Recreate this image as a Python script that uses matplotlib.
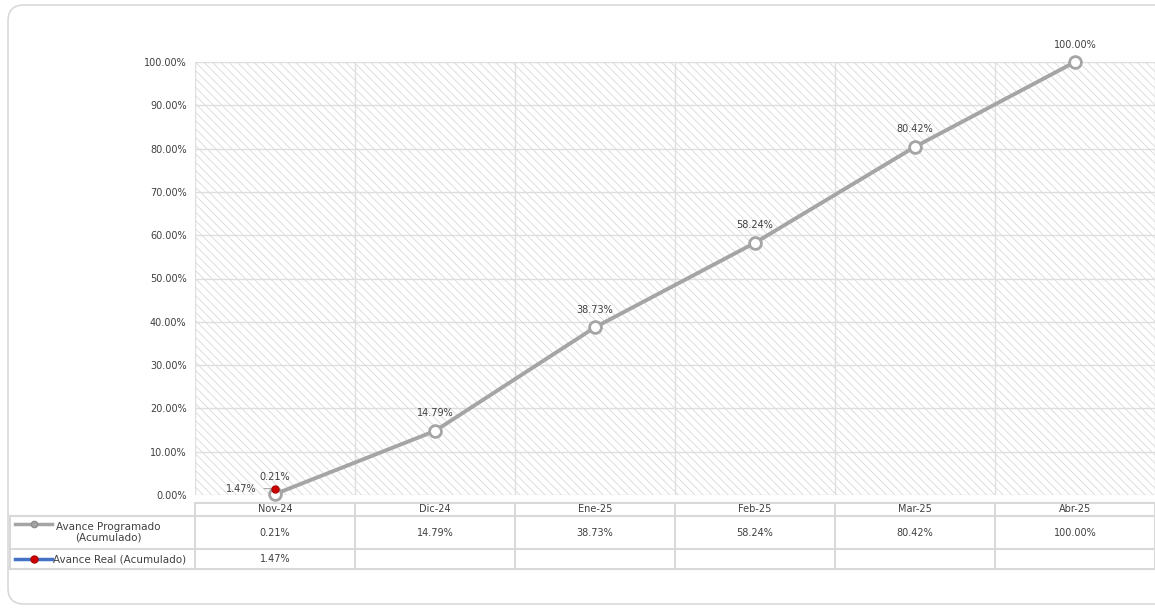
import matplotlib.pyplot as plt
import matplotlib.transforms as mtransforms
from matplotlib.patches import Rectangle, FancyBboxPatch
from matplotlib.lines import Line2D

plt.rcParams['font.family'] = ['DejaVu Sans']
plt.rcParams['hatch.linewidth'] = 0.5

# datos
meses = ['Nov-24', 'Dic-24', 'Ene-25', 'Feb-25', 'Mar-25', 'Abr-25']
programado = [0.0021, 0.1479, 0.3873, 0.5824, 0.8042, 1.0000]
real = [0.0147]
serie_prog = 'Avance Programado\n(Acumulado)'
serie_real = 'Avance Real (Acumulado)'

W, H = 1155, 609
fig = plt.figure(figsize=(W / 100, H / 100), dpi=100)
fs = 7

def fx(px):
    return px / W

def fy(py):
    return 1 - py / H

# marco redondeado (en pulgadas, 100 px = 1 in), cortado a la derecha
marco = FancyBboxPatch((0.08, (H - 604) / 100), 12.5, 5.99,
                       boxstyle='round,pad=0,rounding_size=0.16',
                       transform=fig.dpi_scale_trans, fc='white', ec='#d9d9d9', lw=1.2,
                       zorder=-10)
fig.add_artist(marco)

# area de grafico
ax = fig.add_axes([fx(195), fy(495), fx(1155) - fx(195), fy(62) - fy(495)])
ax.set_facecolor('none')
ax.add_patch(Rectangle((0, 0), 1, 1, transform=ax.transAxes, fc='white',
                       ec='#d2d2d2', lw=0, hatch='\\\\\\\\', zorder=0))
x = range(len(meses))
ax.set_xlim(-0.5, len(meses) - 0.5)
ax.set_ylim(0, 1.0)
for s in ax.spines.values():
    s.set_visible(False)
ax.set_yticks([i / 10 for i in range(11)])
ax.set_yticklabels([f'{i * 10:.2f}%' for i in range(11)])
ax.set_xticks([])
ax.tick_params(axis='y', length=0, labelsize=fs, labelcolor='#404040', pad=6)
for i in range(11):
    ax.axhline(i / 10, color='#dedede', lw=1, zorder=1)
for i in range(len(meses) + 1):
    ax.axvline(i - 0.5, color='#dedede', lw=1, zorder=1)

ax.plot(x, programado, color='#a5a5a5', lw=2.8, marker='o', ms=8.5,
        mfc='white', mec='#a5a5a5', mew=2, zorder=3, clip_on=False)
ax.plot(range(len(real)), real, color='#4472c4', lw=2.8, marker='o', ms=5,
        mfc='#d00000', mec='#b00000', mew=1, zorder=4, clip_on=False)

for i, v in enumerate(programado):
    ax.annotate(f'{v * 100:.2f}%', (i, v), xytext=(0, 9), textcoords='offset points',
                ha='center', va='bottom', fontsize=fs, color='#404040')
for i, v in enumerate(real):
    ax.annotate(f'{v * 100:.2f}%', (i, v), xytext=(-13, 0), textcoords='offset points',
                ha='right', va='center', fontsize=fs, color='#404040',
                arrowprops=dict(arrowstyle='-', color='#a5a5a5', lw=0.8,
                                shrinkA=3, shrinkB=2))

# tabla de datos
tab = fig.add_axes([fx(195), fy(569), fx(1155) - fx(195), fy(503) - fy(569)])
tab.set_xlim(ax.get_xlim())
tab.set_ylim(569, 503)
tab.axis('off')
lc = '#d9d9d9'
bl = mtransforms.blended_transform_factory(fig.transFigure, tab.transData)
tab.plot([-0.5, len(meses) - 0.5], [503, 503], color=lc, lw=1.5, clip_on=False)
for yy in (516, 549, 569):
    tab.add_line(Line2D([fx(10), 1.0], [yy, yy], transform=bl, color=lc, lw=1.5,
                        clip_on=False))
for i in range(len(meses) + 1):
    tab.plot([i - 0.5, i - 0.5], [503, 569], color=lc, lw=1.5, clip_on=False)
tab.add_line(Line2D([fx(10), fx(10)], [516, 569], transform=bl, color=lc, lw=1.5,
                    clip_on=False))

for i, m in enumerate(meses):
    tab.text(i, 509.5, m, ha='center', va='center', fontsize=fs, color='#404040')
    tab.text(i, 532.5, f'{programado[i] * 100:.2f}%', ha='center', va='center',
             fontsize=fs, color='#404040')
for i, v in enumerate(real):
    tab.text(i, 559, f'{v * 100:.2f}%', ha='center', va='center',
             fontsize=fs, color='#404040')

# leyenda en la tabla
tab.add_line(Line2D([fx(15), fx(52)], [524, 524], transform=bl, color='#a5a5a5', lw=2.5,
                    clip_on=False))
tab.add_line(Line2D([fx(33.5)], [524], transform=bl, marker='o', ms=4.5, mfc='#a5a5a5',
                    mec='#8c8c8c', ls='none', clip_on=False))
tab.text(fx(108), 532.5, serie_prog, transform=bl, ha='center', va='center',
         fontsize=7.5, color='#404040', linespacing=1.1)
tab.add_line(Line2D([fx(15), fx(52)], [559, 559], transform=bl, color='#4472c4', lw=2.5,
                    clip_on=False))
tab.add_line(Line2D([fx(33.5)], [559], transform=bl, marker='o', ms=5, mfc='#d00000',
                    mec='#b00000', ls='none', clip_on=False))
tab.text(fx(53), 559, serie_real, transform=bl, ha='left', va='center',
         fontsize=7.5, color='#404040')

fig.savefig('out.png', dpi=100)
